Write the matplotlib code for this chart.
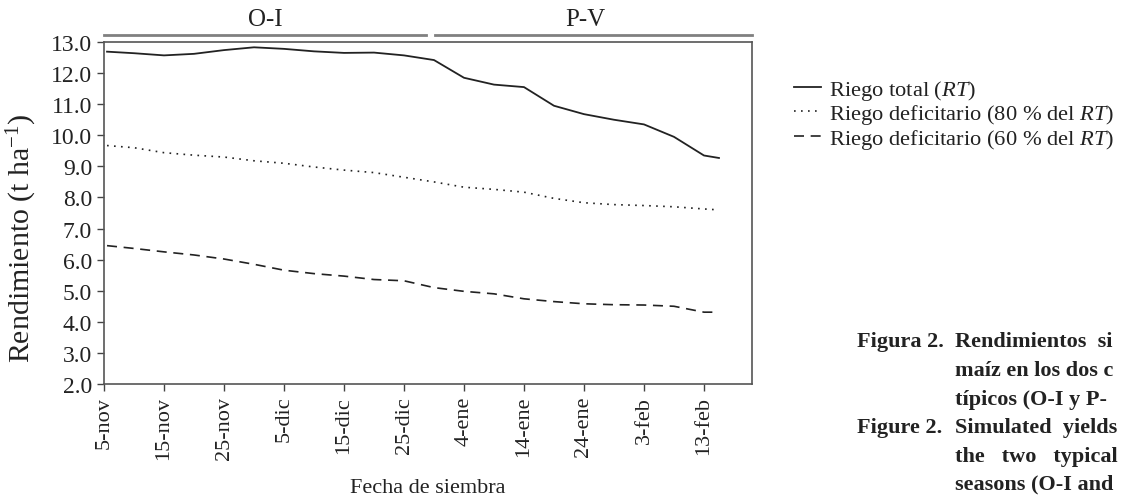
import matplotlib
matplotlib.use("Agg")
import matplotlib.pyplot as plt

plt.rcParams['font.family'] = ['Liberation Serif', 'DejaVu Serif']
plt.rcParams['mathtext.fontset'] = 'custom'
plt.rcParams['mathtext.rm'] = 'Liberation Serif'
plt.rcParams['mathtext.it'] = 'Liberation Serif:italic'

# dias desde el 5-nov
dias = [0.5, 5, 10, 15, 20, 25, 30, 35, 40, 45, 50, 55, 60, 65, 70, 75, 80, 85, 90, 95, 100, 102.5]
riego_total = [12.69, 12.64, 12.57, 12.62, 12.74, 12.83, 12.78, 12.70, 12.65, 12.66, 12.57,
               12.42, 11.85, 11.63, 11.55, 10.95, 10.68, 10.50, 10.35, 9.95, 9.35, 9.27]
riego_80 = [9.67, 9.60, 9.44, 9.36, 9.30, 9.18, 9.10, 8.98, 8.88, 8.80, 8.65,
            8.50, 8.33, 8.26, 8.17, 7.97, 7.83, 7.77, 7.74, 7.70, 7.63, 7.60]
riego_60 = [6.45, 6.36, 6.25, 6.15, 6.02, 5.85, 5.66, 5.55, 5.47, 5.36, 5.32,
            5.10, 4.98, 4.90, 4.74, 4.65, 4.58, 4.55, 4.54, 4.50, 4.31, 4.31]

tick_dias = [0, 10, 20, 30, 40, 50, 60, 70, 80, 90, 100]
tick_labels = ['5-nov', '15-nov', '25-nov', '5-dic', '15-dic', '25-dic',
               '4-ene', '14-ene', '24-ene', '3-feb', '13-feb']
y_ticks = [2, 3, 4, 5, 6, 7, 8, 9, 10, 11, 12, 13]

ciclos = ['O-I', 'P-V']
ciclo_ini = [0, 55.2]
ciclo_fin = [53.7, 108]
ciclo_txt = [26.8, 80.2]

fig = plt.figure(figsize=(11.21, 5.02), dpi=100)
ax = fig.add_axes([0.0928, 0.2331, 0.578, 0.6812])

c = '#222222'
ax.plot(dias, riego_total, color=c, lw=1.3, ls='-', label=r'Riego total ($\mathit{RT}$)')
ax.plot(dias, riego_80, color=c, lw=1.2, ls=(0, (1, 3.2)), label=r'Riego deficitario (80 % del $\mathit{RT}$)')
ax.plot(dias, riego_60, color=c, lw=1.2, ls=(0, (6, 4)), label=r'Riego deficitario (60 % del $\mathit{RT}$)')

ax.set_xlim(0, 108)
ax.set_ylim(2, 13)
ax.set_xticks(tick_dias)
ax.set_xticklabels(tick_labels, rotation=90)
ax.set_yticks(y_ticks)
ax.set_yticklabels(['%.1f' % v for v in y_ticks])
ax.tick_params(direction='out', length=5, width=1, colors='#444444', labelcolor='#222222')
ax.tick_params(axis='y', labelsize=17)
ax.tick_params(axis='x', labelsize=16)
for s in ax.spines.values():
    s.set_color('#555555')
    s.set_linewidth(1.2)

ax.set_xlabel('Fecha de siembra', fontsize=16, color='#222222', labelpad=14)
ax.set_ylabel(r'Rendimiento (t ha$^{-1}$)', fontsize=21.5, color='#222222')
ax.yaxis.set_label_coords(-0.1, 0.43)

# ciclos arriba
for nom, a, b, xt in zip(ciclos, ciclo_ini, ciclo_fin, ciclo_txt):
    ax.plot([a, b], [13.22, 13.22], color='#808080', lw=2, clip_on=False)
    ax.text(xt, 13.38, nom, ha='center', va='bottom', fontsize=18, color='#222222')

leg = fig.legend(loc='upper left', bbox_to_anchor=(0.7003, 0.861), frameon=False,
                 fontsize=16.2, handlelength=1.2, handletextpad=0.36, labelspacing=0.02,
                 borderaxespad=0)
for t in leg.get_texts():
    t.set_color('#222222')

cap_x1 = 0.7645
cap_x2 = 0.852
ys = [342, 371, 400, 428, 457, 484]
izq = ['Figura 2.', '', '', 'Figure 2.', '', '']
der = ['Rendimientos  si', 'maíz en los dos c', 'típicos (O-I y P-',
       'Simulated  yields', 'the   two   typical', 'seasons (O-I and']
for y, a, b in zip(ys, izq, der):
    yy = 1 - y / 502
    if a:
        fig.text(cap_x1, yy, a, fontsize=16, fontweight='bold', va='center', color='#222222')
    fig.text(cap_x2, yy, b, fontsize=16, fontweight='bold', va='center', color='#222222')

fig.savefig('out.png', dpi=100)
